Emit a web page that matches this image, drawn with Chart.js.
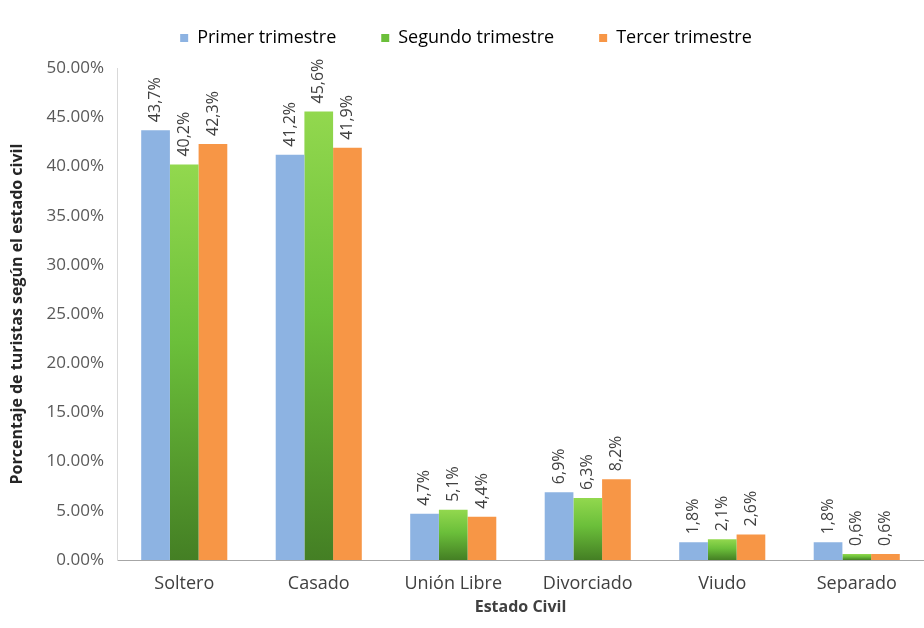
<!DOCTYPE html>
<html>
<head>
<meta charset="utf-8">
<script src="https://cdn.jsdelivr.net/npm/chart.js@4"></script>
<style>
  html, body { margin: 0; padding: 0; background: #fff; }
  #wrap { width: 924px; height: 628px; }
</style>
</head>
<body>
<div id="wrap"><canvas id="bar-chart" width="924" height="628"></canvas></div>
<script>
var categorias = ['Soltero', 'Casado', 'Unión Libre', 'Divorciado', 'Viudo', 'Separado'];
var primer = [43.7, 41.2, 4.7, 6.9, 1.8, 1.8];
var segundo = [40.2, 45.6, 5.1, 6.3, 2.1, 0.6];
var tercer = [42.3, 41.9, 4.4, 8.2, 2.6, 0.6];
var ticksY = [0, 5, 10, 15, 20, 25, 30, 35, 40, 45, 50];

var fuente = "'Open Sans', Lato, sans-serif";

// degradado verde por barra, claro arriba y oscuro abajo
function verde(ctx) {
  var chart = ctx.chart;
  if (!chart.chartArea || ctx.type !== 'data') return '#7cc242';
  var y = chart.scales.y;
  var top = y.getPixelForValue(ctx.raw);
  var bottom = y.getPixelForValue(0);
  if (bottom - top < 1) return '#5a9a30';
  var g = chart.ctx.createLinearGradient(0, top, 0, bottom);
  g.addColorStop(0, '#92d84e');
  g.addColorStop(0.45, '#6bbf3a');
  g.addColorStop(1, '#447f24');
  return g;
}

var etiquetas = {
  id: 'etiquetas',
  afterDatasetsDraw: function(chart) {
    var ctx = chart.ctx;
    ctx.save();
    ctx.fillStyle = '#404040';
    ctx.font = '16px ' + fuente;
    ctx.textAlign = 'left';
    ctx.textBaseline = 'middle';
    chart.data.datasets.forEach(function(ds, i) {
      chart.getDatasetMeta(i).data.forEach(function(bar, j) {
        var txt = ds.data[j].toFixed(1).replace('.', ',') + '%';
        ctx.save();
        ctx.translate(bar.x, bar.y - 8);
        ctx.rotate(-Math.PI / 2);
        ctx.fillText(txt, 0, 0);
        ctx.restore();
      });
    });
    ctx.restore();
  }
};

var chrt = document.getElementById('bar-chart').getContext('2d');
var chartId = new Chart(chrt, {
  type: 'bar',
  data: {
    labels: categorias,
    datasets: [{
      label: 'Primer trimestre',
      data: primer,
      backgroundColor: '#8db3e2'
    }, {
      label: 'Segundo trimestre',
      data: segundo,
      backgroundColor: verde
    }, {
      label: 'Tercer trimestre',
      data: tercer,
      backgroundColor: '#f79646'
    }]
  },
  options: {
    responsive: false,
    animation: false,
    devicePixelRatio: 1,
    layout: { padding: { left: 8, right: 0, top: -16, bottom: 6 } },
    datasets: {
      bar: { categoryPercentage: 0.64, barPercentage: 1.0 }
    },
    plugins: {
      legend: {
        position: 'top',
        labels: {
          boxWidth: 8,
          boxHeight: 8,
          padding: 45,
          color: '#404040',
          font: { family: fuente, size: 18 },
          generateLabels: function(chart) {
            var cols = ['#8db3e2', '#6bbf3a', '#f79646'];
            return chart.data.datasets.map(function(ds, i) {
              return { text: ds.label, fillStyle: cols[i], strokeStyle: cols[i], lineWidth: 0, datasetIndex: i };
            });
          }
        }
      },
      // espacio vacío entre la leyenda y el área del gráfico
      subtitle: { display: true, text: ' ', weight: 500, font: { size: 1 }, padding: { top: 0, bottom: 10 } },
      tooltip: { enabled: false }
    },
    scales: {
      x: {
        afterFit: function(axis) { axis.height = 62; },
        grid: { display: false, drawTicks: false },
        border: { color: '#a6a6a6' },
        ticks: { color: '#404040', padding: 13, font: { family: fuente, size: 18 } },
        title: { display: true, text: 'Estado Civil', color: '#404040', padding: { top: 0, bottom: 5 }, font: { family: fuente, size: 16, weight: 'bold' } }
      },
      y: {
        min: 0,
        max: 50,
        afterFit: function(axis) { axis.width = 109; },
        afterBuildTicks: function(axis) {
          axis.ticks = ticksY.map(function(v) { return { value: v }; });
        },
        grid: { display: false, drawTicks: false },
        border: { color: '#d9d9d9' },
        ticks: {
          color: '#595959',
          padding: 13,
          font: { family: fuente, size: 17 },
          callback: function(v) { return v.toFixed(2) + '%'; }
        },
        title: { display: true, text: 'Porcentaje de turistas según el estado civil', color: '#262626', padding: { top: 0, bottom: 2 }, font: { family: fuente, size: 16, weight: 'bold' } }
      }
    }
  },
  plugins: [etiquetas]
});
</script>
</body>
</html>
